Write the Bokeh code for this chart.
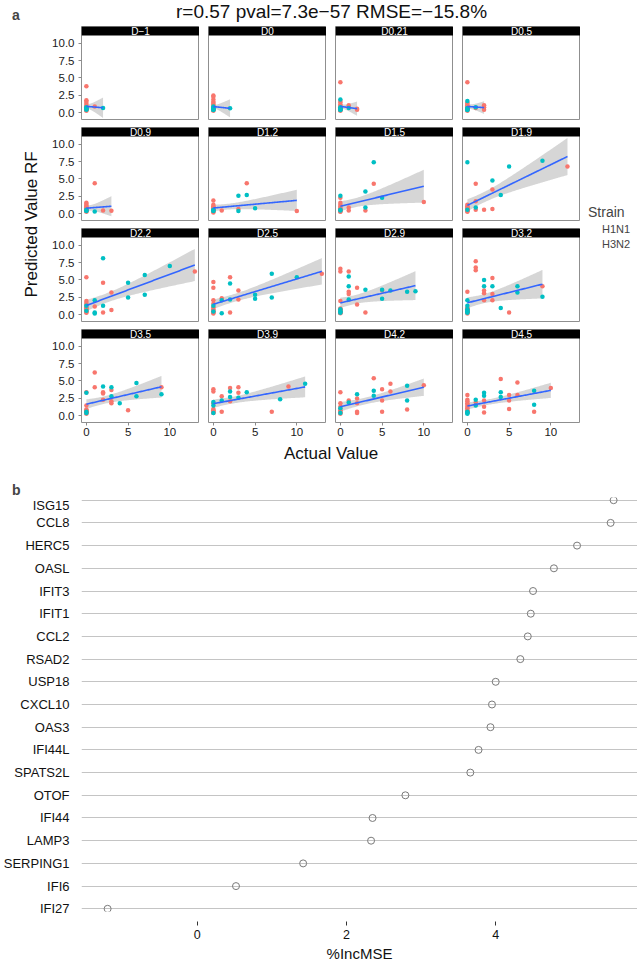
import numpy as np
from bokeh.plotting import figure
from bokeh.layouts import column, row
from bokeh.models import (Range1d, FactorRange, FixedTicker, Label, BoxAnnotation,
                          Legend, LegendItem, NumeralTickFormatter)
from bokeh.embed import file_html
from bokeh.resources import INLINE

FONT = "Liberation Sans"
C_H1N1 = "#F8766D"
C_H3N2 = "#00BFC4"

# ---------------- panel a data (actual symptom value, predicted value RF) ----------------
facet_names = ["D−1", "D0", "D0.21", "D0.5", "D0.9", "D1.2", "D1.5", "D1.9",
               "D2.2", "D2.5", "D2.9", "D3.2", "D3.5", "D3.9", "D4.2", "D4.5"]

dm1_h1n1_actual = [0, 0, 0, 0, 0, 0, 0, 0, 0, 0, 0, 0, 0, 0, 1]
dm1_h1n1_pred = [3.8, 1.8, 1.6, 1.3, 1.0, 0.9, 0.8, 0.7, 0.6, 0.5, 0.5, 0.4, 0.4, 0.3, 0.9]
dm1_h3n2_actual = [0, 0, 0, 0, 0, 2]
dm1_h3n2_pred = [0.8, 0.7, 0.6, 0.5, 0.5, 0.7]

d0_h1n1_actual = [0, 0, 0, 0, 0, 0, 0, 0, 0, 0, 0, 0, 0, 0, 0, 0, 0]
d0_h1n1_pred = [2.5, 2.3, 1.9, 1.6, 1.4, 1.2, 1.0, 0.8, 0.7, 0.6, 0.6, 0.5, 0.5, 0.4, 0.4, 0.3, 0.5]
d0_h3n2_actual = [0, 0, 0, 0, 0, 0, 2]
d0_h3n2_pred = [0.9, 0.7, 0.6, 0.5, 0.5, 0.4, 0.65]

d021_h1n1_actual = [0, 0, 0, 0, 0, 0, 0, 0, 0, 0, 0, 0, 0, 0, 0, 1, 1, 2, 2]
d021_h1n1_pred = [4.4, 1.7, 1.5, 1.2, 1.0, 0.8, 0.7, 0.6, 0.6, 0.5, 0.5, 0.4, 0.4, 0.4, 0.3, 1.1, 0.8, 0.6, 0.45]
d021_h3n2_actual = [0, 0, 0, 0, 0, 0, 0, 1]
d021_h3n2_pred = [1.9, 0.8, 0.6, 0.6, 0.5, 0.5, 0.4, 0.7]

d05_h1n1_actual = [0, 0, 0, 0, 0, 0, 0, 0, 0, 0, 0, 0, 0, 0, 1, 2, 2, 2]
d05_h1n1_pred = [4.4, 1.5, 1.3, 1.1, 0.9, 0.8, 0.7, 0.6, 0.6, 0.5, 0.5, 0.5, 0.4, 0.3, 0.7, 1.1, 0.8, 0.45]
d05_h3n2_actual = [0, 0, 0, 0, 0, 0, 1]
d05_h3n2_pred = [1.7, 0.7, 0.6, 0.5, 0.5, 0.4, 0.8]

d09_h1n1_actual = [0, 0, 0, 0, 0, 0, 0, 0, 0, 0, 0, 0, 0, 0, 0, 1, 2, 3]
d09_h1n1_pred = [1.6, 1.4, 1.2, 1.0, 0.9, 0.8, 0.7, 0.6, 0.6, 0.5, 0.5, 0.5, 0.4, 0.4, 0.3, 4.4, 0.5, 0.45]
d09_h3n2_actual = [0, 0, 0, 1]
d09_h3n2_pred = [0.6, 0.5, 0.4, 0.35]

d12_h1n1_actual = [0, 0, 0, 0, 0, 0, 0, 0, 0, 0, 0, 0, 0, 1, 3, 4, 10]
d12_h1n1_pred = [1.9, 1.3, 1.1, 0.9, 0.8, 0.7, 0.6, 0.6, 0.5, 0.5, 0.4, 0.3, 0.2, 0.5, 0.7, 4.4, 0.4]
d12_h3n2_actual = [0, 0, 0, 3, 3, 4, 5]
d12_h3n2_pred = [0.6, 0.5, 0.4, 2.6, 0.4, 2.7, 0.8]

d15_h1n1_actual = [0, 0, 0, 0, 0, 0, 0, 0, 0, 0, 0, 0, 1, 1, 3, 4, 10]
d15_h1n1_pred = [2.3, 1.6, 1.3, 1.05, 0.8, 0.7, 0.6, 0.5, 0.5, 0.4, 0.35, 0.3, 0.9, 0.5, 0.5, 4.3, 1.7]
d15_h3n2_actual = [0, 0, 0, 3, 3, 4, 5]
d15_h3n2_pred = [2.6, 0.6, 0.5, 3.2, 0.9, 7.4, 2.3]

d19_h1n1_actual = [0, 0, 0, 0, 0, 0, 0, 0, 0, 0, 0, 1, 1, 1, 2, 3, 3, 12]
d19_h1n1_pred = [1.3, 1.1, 0.9, 0.8, 0.7, 0.6, 0.6, 0.5, 0.5, 0.4, 0.3, 4.3, 1.8, 0.6, 0.6, 3.5, 0.7, 6.8]
d19_h3n2_actual = [0, 0, 1, 3, 4, 5, 9]
d19_h3n2_pred = [7.4, 0.6, 0.9, 4.8, 2.7, 6.8, 7.6]

d22_h1n1_actual = [0, 0, 0, 0, 0, 0, 0, 0, 0, 0, 0, 1, 2, 2, 3, 3, 13]
d22_h1n1_pred = [5.4, 2.0, 1.7, 1.4, 1.1, 0.9, 0.8, 0.6, 0.5, 0.4, 0.3, 1.2, 4.6, 0.35, 3.2, 0.7, 6.2]
d22_h3n2_actual = [0, 0, 1, 1, 1, 2, 2, 5, 5, 7, 7, 10]
d22_h3n2_pred = [1.3, 0.6, 2.1, 0.35, 0.2, 8.1, 1.3, 4.6, 2.5, 5.7, 2.9, 7.0]

d25_h1n1_actual = [0, 0, 0, 0, 0, 0, 0, 0, 0, 0, 0, 1, 2, 2, 3, 3, 13]
d25_h1n1_pred = [4.7, 3.9, 2.1, 1.6, 1.1, 0.8, 0.6, 0.5, 0.4, 0.3, 0.2, 2.4, 5.4, 0.35, 3.5, 2.2, 5.9]
d25_h3n2_actual = [0, 0, 1, 1, 2, 2, 5, 5, 7, 7, 10]
d25_h3n2_pred = [1.3, 0.5, 2.1, 0.25, 4.5, 2.2, 2.9, 2.3, 5.9, 2.5, 5.4]

d29_h1n1_actual = [0, 0, 0, 0, 0, 0, 0, 0, 0, 0, 0, 0, 0, 0, 0, 0, 1, 1, 1, 2, 2, 3, 5]
d29_h1n1_pred = [6.6, 6.2, 2.0, 0.9, 0.8, 0.7, 0.6, 0.6, 0.5, 0.5, 0.4, 0.4, 0.35, 0.3, 0.3, 0.25,
                 6.2, 3.3, 3.0, 3.9, 1.5, 0.35, 3.5]
d29_h3n2_actual = [0, 0, 0, 0, 1, 1, 1, 3, 5, 5, 6, 8, 9]
d29_h3n2_pred = [0.8, 0.5, 0.45, 0.3, 5.5, 4.1, 2.2, 3.6, 2.3, 3.6, 3.5, 3.3, 3.4]

d32_h1n1_actual = [0, 0, 0, 0, 0, 0, 0, 0, 0, 0, 0, 0, 0, 1, 1, 1, 2, 2, 2, 3, 3, 3, 5, 9]
d32_h1n1_pred = [3.3, 1.0, 0.9, 0.8, 0.7, 0.6, 0.6, 0.5, 0.5, 0.4, 0.4, 0.3, 0.2,
                 7.7, 6.8, 6.4, 3.5, 3.1, 2.1, 5.3, 3.0, 2.1, 0.35, 4.1]
d32_h3n2_actual = [0, 0, 0, 0, 0, 0, 0, 2, 2, 3, 4, 6, 6, 9]
d32_h3n2_pred = [2.1, 1.3, 0.8, 0.6, 0.5, 0.4, 0.3, 5.0, 4.1, 4.1, 1.0, 4.1, 3.2, 2.6]

d35_h1n1_actual = [0, 0, 0, 0, 0, 0, 0, 0, 0, 0, 0, 1, 1, 2, 2, 2, 3, 3, 3, 5, 9]
d35_h1n1_pred = [3.4, 1.5, 0.9, 0.8, 0.7, 0.6, 0.6, 0.5, 0.5, 0.4, 0.3,
                 6.2, 4.1, 3.4, 3.2, 2.3, 3.7, 2.1, 1.8, 0.8, 4.1]
d35_h3n2_actual = [0, 0, 0, 2, 3, 3, 4, 6, 6, 9]
d35_h3n2_pred = [3.3, 0.6, 0.4, 4.2, 4.1, 2.8, 1.8, 4.7, 2.8, 3.1]

d39_h1n1_actual = [0, 0, 0, 0, 0, 0, 0, 0, 0, 1, 1, 2, 2, 3, 3, 7, 9]
d39_h1n1_pred = [3.8, 3.5, 1.8, 1.0, 0.8, 0.7, 0.6, 0.5, 0.4, 2.8, 0.6, 4.0, 2.1, 4.1, 3.3, 0.6, 4.2]
d39_h3n2_actual = [0, 0, 0, 1, 2, 2, 3, 4, 8, 11]
d39_h3n2_pred = [2.0, 1.5, 0.4, 2.2, 3.5, 2.7, 2.6, 3.4, 2.4, 4.6]

d42_h1n1_actual = [0, 0, 0, 0, 0, 0, 0, 0, 1, 2, 2, 2, 2, 4, 5, 5, 5, 6, 6, 8, 10]
d42_h1n1_pred = [3.4, 1.8, 1.3, 0.8, 0.7, 0.5, 0.4, 0.3, 2.2, 2.5, 1.8, 0.6, 0.4, 5.4, 3.8, 2.2, 0.6, 4.6, 3.5, 0.9, 4.4]
d42_h3n2_actual = [0, 0, 1, 2, 4, 4, 8, 8]
d42_h3n2_pred = [1.1, 0.4, 1.9, 3.1, 3.6, 2.9, 4.3, 2.2]

d45_h1n1_actual = [0, 0, 0, 0, 0, 0, 0, 0, 0, 0, 0, 1, 2, 2, 2, 4, 5, 5, 5, 6, 6, 8, 10]
d45_h1n1_pred = [3.0, 2.3, 2.1, 1.8, 1.6, 1.3, 1.1, 0.8, 0.7, 0.6, 0.5,
                 1.9, 2.2, 1.3, 0.5, 5.3, 3.0, 2.2, 1.0, 4.8, 3.0, 0.6, 4.0]
d45_h3n2_actual = [0, 0, 0, 0, 1, 1, 2, 2, 4, 4, 8, 8]
d45_h3n2_pred = [0.6, 0.5, 0.4, 0.3, 2.3, 1.5, 3.3, 2.9, 3.4, 2.7, 3.6, 1.6]

y_ticks_a = [0, 2.5, 5, 7.5, 10]
x_ticks_a = [0, 5, 10]
strain_labels = ["H1N1", "H3N2"]

# ---------------- panel b data ----------------
genes = ["ISG15", "CCL8", "HERC5", "OASL", "IFIT3", "IFIT1", "CCL2", "RSAD2", "USP18",
         "CXCL10", "OAS3", "IFI44L", "SPATS2L", "OTOF", "IFI44", "LAMP3", "SERPING1",
         "IFI6", "IFI27"]
inc_mse = [5.58, 5.54, 5.09, 4.78, 4.50, 4.47, 4.43, 4.33, 4.00,
           3.95, 3.93, 3.77, 3.66, 2.79, 2.35, 2.33, 1.42,
           0.52, -1.20]
x_ticks_b = [0, 2, 4]

facets = [
    (dm1_h1n1_actual, dm1_h1n1_pred, dm1_h3n2_actual, dm1_h3n2_pred),
    (d0_h1n1_actual, d0_h1n1_pred, d0_h3n2_actual, d0_h3n2_pred),
    (d021_h1n1_actual, d021_h1n1_pred, d021_h3n2_actual, d021_h3n2_pred),
    (d05_h1n1_actual, d05_h1n1_pred, d05_h3n2_actual, d05_h3n2_pred),
    (d09_h1n1_actual, d09_h1n1_pred, d09_h3n2_actual, d09_h3n2_pred),
    (d12_h1n1_actual, d12_h1n1_pred, d12_h3n2_actual, d12_h3n2_pred),
    (d15_h1n1_actual, d15_h1n1_pred, d15_h3n2_actual, d15_h3n2_pred),
    (d19_h1n1_actual, d19_h1n1_pred, d19_h3n2_actual, d19_h3n2_pred),
    (d22_h1n1_actual, d22_h1n1_pred, d22_h3n2_actual, d22_h3n2_pred),
    (d25_h1n1_actual, d25_h1n1_pred, d25_h3n2_actual, d25_h3n2_pred),
    (d29_h1n1_actual, d29_h1n1_pred, d29_h3n2_actual, d29_h3n2_pred),
    (d32_h1n1_actual, d32_h1n1_pred, d32_h3n2_actual, d32_h3n2_pred),
    (d35_h1n1_actual, d35_h1n1_pred, d35_h3n2_actual, d35_h3n2_pred),
    (d39_h1n1_actual, d39_h1n1_pred, d39_h3n2_actual, d39_h3n2_pred),
    (d42_h1n1_actual, d42_h1n1_pred, d42_h3n2_actual, d42_h3n2_pred),
    (d45_h1n1_actual, d45_h1n1_pred, d45_h3n2_actual, d45_h3n2_pred),
]

# ---------------- layout constants (pixels) ----------------
X_LO, X_HI = -0.585, 13.56
Y_LO, Y_PANEL_HI = -0.95, 11.09
FRAME_W, FRAME_H, STRIP_H = 118, 93, 9
Y_TOP = Y_PANEL_HI + STRIP_H * (Y_PANEL_HI - Y_LO) / (FRAME_H - STRIP_H)
ROW_GAPS = [8, 8, 8]
AXIS_B = 21
LEFT0, GAP_X = 35, 9
GRID_W = LEFT0 + FRAME_W + 3 * (GAP_X + FRAME_W)
GRID_H = 4 * FRAME_H + sum(ROW_GAPS) + AXIS_B
HEAD_H, XLAB_H = 26, 54
SIDE_H = HEAD_H + GRID_H + XLAB_H
YLAB_W, LEG_W = 46, 57


def no_align(p):
    try:
        p.frame_align = False
    except Exception:
        pass
    return p


def t975(df):
    z = 1.959964
    return z + (z ** 3 + z) / (4 * df) + (5 * z ** 5 + 16 * z ** 3 + 3 * z) / (96 * df ** 2)


def lm_fit(x, y):
    x = np.asarray(x, float)
    y = np.asarray(y, float)
    n = len(x)
    xm = x.mean()
    sxx = ((x - xm) ** 2).sum()
    b = ((x - xm) * (y - y.mean())).sum() / sxx
    a = y.mean() - b * xm
    s = np.sqrt(((y - (a + b * x)) ** 2).sum() / (n - 2))
    xs = np.linspace(x.min(), x.max(), 80)
    yh = a + b * xs
    se = s * np.sqrt(1.0 / n + (xs - xm) ** 2 / sxx)
    t = t975(n - 2)
    return xs, yh, yh - t * se, yh + t * se


def blank(w, h):
    p = figure(width=w, height=h, x_range=Range1d(0, w), y_range=Range1d(0, h),
               x_axis_location=None, y_axis_location=None, toolbar_location=None,
               output_backend="svg", min_border=0)
    p.outline_line_color = None
    p.grid.visible = False
    return no_align(p)


def make_facet(i):
    name = facet_names[i]
    h1x, h1y, h3x, h3y = facets[i]
    r, c = divmod(i, 4)
    p = figure(frame_width=FRAME_W, frame_height=FRAME_H,
               x_range=Range1d(X_LO, X_HI), y_range=Range1d(Y_LO, Y_TOP),
               x_axis_location="below" if r == 3 else None,
               y_axis_location="left" if c == 0 else None,
               toolbar_location=None, output_backend="svg",
               min_border_left=LEFT0 if c == 0 else GAP_X, min_border_right=0,
               min_border_top=0, min_border_bottom=AXIS_B if r == 3 else ROW_GAPS[r])
    no_align(p)
    p.grid.visible = False
    p.outline_line_color = "#8f8f8f"
    p.outline_line_width = 1
    for ax in p.axis:
        ax.axis_line_color = None
        ax.major_tick_line_color = "#8a8a8a"
        ax.major_tick_in = 0
        ax.major_tick_out = 3
        ax.minor_tick_line_color = None
        ax.major_label_text_font = FONT
        ax.major_label_text_font_size = "11.5px"
        ax.major_label_text_color = "#1a1a1a"
    if c == 0:
        p.yaxis.ticker = FixedTicker(ticks=y_ticks_a)
        p.yaxis.formatter = NumeralTickFormatter(format="0.0")
        p.yaxis.major_label_standoff = 4
    if r == 3:
        p.xaxis.ticker = FixedTicker(ticks=x_ticks_a)
        p.xaxis.major_label_standoff = 2

    xs, yh, lo, hi = lm_fit(list(h1x) + list(h3x), list(h1y) + list(h3y))
    p.varea(x=xs, y1=lo, y2=hi, fill_color="#999999", fill_alpha=0.4)
    p.scatter(x=h1x, y=h1y, marker="circle", size=4.5, fill_color=C_H1N1, line_color=None)
    p.scatter(x=h3x, y=h3y, marker="circle", size=4.5, fill_color=C_H3N2, line_color=None)
    p.line(x=xs, y=yh, line_color="#3366FF", line_width=1.6)

    p.add_layout(BoxAnnotation(bottom=Y_PANEL_HI, fill_color="black", fill_alpha=1.0,
                               line_color=None))
    p.add_layout(Label(x=(X_LO + X_HI) / 2, y=(Y_PANEL_HI + Y_TOP) / 2, text=name,
                       text_align="center", text_baseline="middle", text_color="white",
                       text_font=FONT, text_font_size="10px"))
    return p


facet_figs = [make_facet(i) for i in range(16)]
grid = column(*[row(*facet_figs[r * 4:(r + 1) * 4]) for r in range(4)])

# title above the facet grid
title_fig = blank(GRID_W, HEAD_H)
title_fig.add_layout(Label(x=331 - YLAB_W, y=HEAD_H - 10.5, text="r=0.57 pval=7.3e−57 RMSE=−15.8%",
                           text_align="center", text_baseline="middle",
                           text_font=FONT, text_font_size="19px", text_color="#111111"))

# x-axis title below the facet grid
xlab = blank(GRID_W, XLAB_H)
xlab.add_layout(Label(x=330.5 - YLAB_W, y=XLAB_H - 10, text="Actual Value", text_align="center",
                      text_baseline="middle", text_font=FONT, text_font_size="17px",
                      text_color="#111111"))

# left strip: panel letters and y-axis title
ylab = blank(YLAB_W, SIDE_H)
ylab.add_layout(Label(x=11.5, y=SIDE_H - 14.5, text="a", text_align="left", text_baseline="middle",
                      text_font=FONT, text_font_size="14px", text_font_style="bold"))
ylab.add_layout(Label(x=31, y=SIDE_H - 224, text="Predicted Value RF", angle=np.pi / 2,
                      text_align="center", text_baseline="middle",
                      text_font=FONT, text_font_size="17px", text_color="#111111"))
ylab.add_layout(Label(x=11.5, y=SIDE_H - 489.5, text="b", text_align="left", text_baseline="middle",
                      text_font=FONT, text_font_size="14px", text_font_style="bold"))

# legend
leg = blank(LEG_W, SIDE_H)
items = []
for lab, col in zip(strain_labels, [C_H1N1, C_H3N2]):
    rb = leg.quad(left=[], right=[], top=[], bottom=[], fill_color="white", line_color="#bdbdbd")
    rd = leg.scatter(x=[], y=[], marker="circle", size=4, fill_color=col, line_color=None)
    items.append(LegendItem(label=lab, renderers=[rb, rd]))
legend = Legend(items=items, title="Strain", location=(8, SIDE_H - 250), padding=0, margin=0,
                spacing=3, glyph_width=10, glyph_height=10, label_height=10,
                label_standoff=4, title_standoff=3,
                title_text_font=FONT, title_text_font_size="14px", title_text_font_style="normal",
                label_text_font=FONT, label_text_font_size="11px",
                border_line_color=None, background_fill_alpha=0)
leg.add_layout(legend)

top = row(ylab, column(title_fig, grid, xlab), leg)

# ---------------- panel b ----------------
pb = figure(frame_width=556, frame_height=414, x_range=Range1d(-1.55, 5.90),
            y_range=FactorRange(factors=list(reversed(genes)), range_padding=-0.381,
                                range_padding_units="absolute"),
            toolbar_location=None, output_backend="svg",
            min_border_left=81, min_border_right=0, min_border_top=0, min_border_bottom=40)
no_align(pb)
pb.outline_line_color = None
pb.xgrid.visible = False
pb.ygrid.grid_line_color = "#c4c4c4"
pb.ygrid.grid_line_width = 1
pb.scatter(x=inc_mse, y=genes, marker="circle", size=7, fill_color=None,
           line_color="#7a7a7a", line_width=1)
pb.yaxis.axis_line_color = None
pb.yaxis.major_tick_line_color = None
pb.yaxis.minor_tick_line_color = None
pb.yaxis.major_label_standoff = 6
pb.yaxis.major_label_text_font = FONT
pb.yaxis.major_label_text_font_size = "13px"
pb.yaxis.major_label_text_color = "#111111"
pb.xaxis.ticker = FixedTicker(ticks=x_ticks_b)
pb.xaxis.axis_line_color = None
pb.xaxis.major_tick_line_color = "#333333"
pb.xaxis.major_tick_in = -10
pb.xaxis.major_tick_out = 14
pb.xaxis.minor_tick_line_color = None
pb.xaxis.major_label_standoff = 4
pb.xaxis.major_label_text_font = FONT
pb.xaxis.major_label_text_font_size = "12.5px"
pb.xaxis.major_label_text_color = "#111111"
pb.xaxis.axis_label = "%IncMSE"
pb.xaxis.axis_label_text_font = FONT
pb.xaxis.axis_label_text_font_size = "15px"
pb.xaxis.axis_label_text_font_style = "normal"
pb.xaxis.axis_label_text_color = "#111111"
pb.xaxis.axis_label_standoff = 3

layout = column(top, pb)

with open("out.html", "w") as f:
    f.write(file_html(layout, INLINE, title="RF prediction"))
